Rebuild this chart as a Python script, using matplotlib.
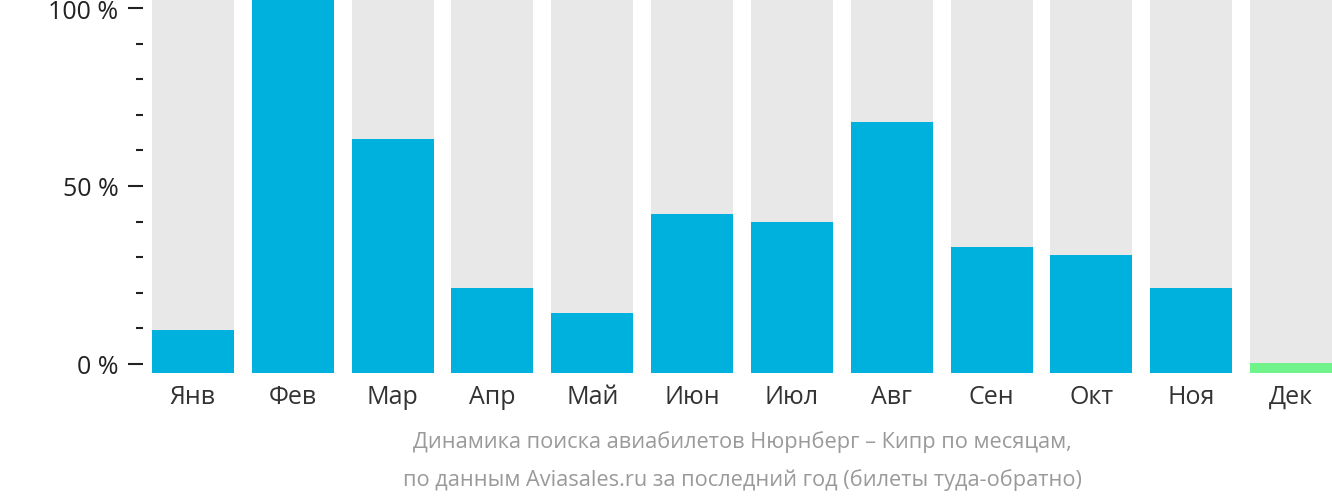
import matplotlib
matplotlib.use("Agg")
import matplotlib.pyplot as plt
from matplotlib.ticker import FixedLocator
import numpy as np

plt.rcParams['font.family'] = ['Open Sans', 'DejaVu Sans']

months = ['Янв', 'Фев', 'Мар', 'Апр', 'Май', 'Июн',
          'Июл', 'Авг', 'Сен', 'Окт', 'Ноя', 'Дек']
values = [9.5, 102.5, 63.2, 21.3, 14.3, 42.1, 39.9, 68.0, 32.9, 30.6, 21.3, 0.3]
is_current = [False] * 11 + [True]
y_ticks = [0, 50, 100]
y_ticklabels = ['0 %', '50 %', '100 %']
caption = ['Динамика поиска авиабилетов Нюрнберг – Кипр по месяцам,',
           'по данным Aviasales.ru за последний год (билеты туда-обратно)']

color_bar = '#00b1dd'
color_now = '#6ff38a'
color_track = '#e8e8e8'

fig = plt.figure(figsize=(13.32, 5.02), dpi=100)
ax = fig.add_axes([152 / 1332, 1 - 373.5 / 502, 1 - 152 / 1332, 373.5 / 502])

ymin, ymax = -2.39, 102.53
x = np.arange(len(months))
width = 0.82

# grey track behind every month
ax.bar(x, ymax - ymin, width, bottom=ymin, color=color_track, zorder=1)
colors = [color_now if c else color_bar for c in is_current]
ax.bar(x, np.array(values) - ymin, width, bottom=ymin, color=colors, zorder=2)

ax.set_xlim(-width / 2, len(months) - 1 + width / 2)
ax.set_ylim(ymin, ymax)

for s in ax.spines.values():
    s.set_visible(False)
ax.spines['left'].set_position(('outward', 9 * 72 / 100))

ax.set_yticks(y_ticks)
ax.set_yticklabels(y_ticklabels)
ax.yaxis.set_minor_locator(FixedLocator([10, 20, 30, 40, 60, 70, 80, 90]))
ax.tick_params(axis='y', which='major', length=10.8, width=1.5, color='#222222',
               labelsize=18, labelcolor='#222222', pad=7)
ax.tick_params(axis='y', which='minor', length=5, width=1.5, color='#222222')

ax.set_xticks(x)
ax.set_xticklabels(months)
ax.tick_params(axis='x', length=0, labelsize=18, labelcolor='#333333', pad=8)

for i, line in enumerate(caption):
    fig.text((152 + 1332) / 2 / 1332, 1 - (442 + i * 38) / 502, line,
             ha='center', va='center', fontsize=15.7, color='#9a9a9a')

fig.savefig('out.png', dpi=100)
